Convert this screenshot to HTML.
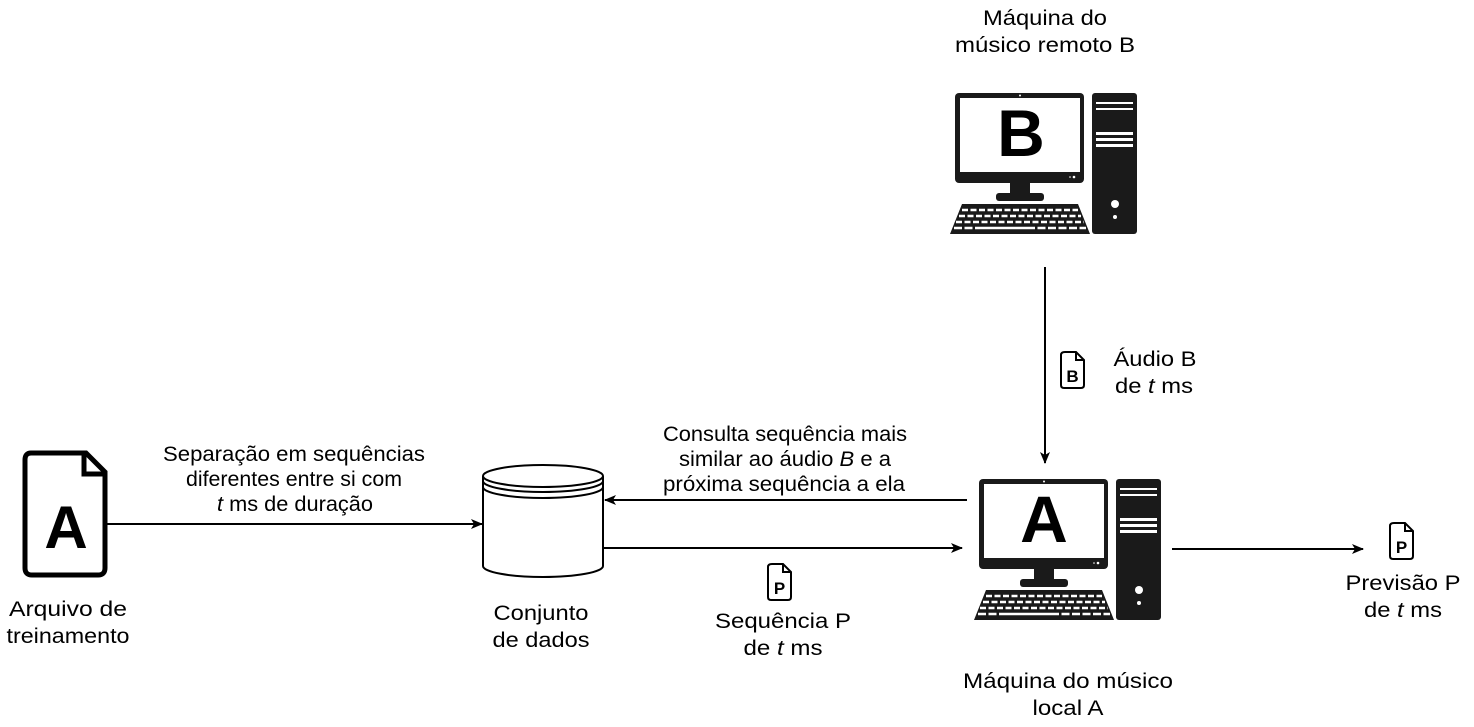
<!DOCTYPE html>
<html><head><meta charset="utf-8"><style>
html,body{margin:0;padding:0;background:#fff;}
svg text{font-family:"Liberation Sans",Arial,sans-serif;fill:#000;}
</style></head><body>
<svg width="1474" height="722" viewBox="0 0 1474 722" xmlns="http://www.w3.org/2000/svg">
<defs>
<g id="pc">
  <rect x="5" y="0" width="129" height="90" rx="4" fill="#1a1a1a"/>
  <rect x="10" y="5" width="120" height="74" fill="#fff"/>
  <circle cx="70" cy="2.5" r="1" fill="#fff"/>
  <circle cx="124" cy="84" r="1.3" fill="#fff"/><circle cx="120" cy="84" r="0.8" fill="#fff"/>
  <rect x="60" y="89" width="20" height="14" fill="#1a1a1a"/>
  <rect x="46" y="100" width="48" height="8" rx="3" fill="#1a1a1a"/>
  <polygon points="12,111 128,111 140,141 0,141" fill="#1a1a1a"/>
  <line x1="12" y1="117" x2="128" y2="117" stroke="#fff" stroke-width="2.5" stroke-dasharray="6 2.5"/>
  <line x1="9" y1="123" x2="131" y2="123" stroke="#fff" stroke-width="2.5" stroke-dasharray="6 2.5"/>
  <line x1="6" y1="129" x2="134" y2="129" stroke="#fff" stroke-width="2.5" stroke-dasharray="6 2.5"/>
  <line x1="4" y1="135" x2="136" y2="135" stroke="#fff" stroke-width="2.5" stroke-dasharray="8 2.5 8 2.5 60 2.5 8 2.5 8 2.5"/>
  <rect x="142" y="0" width="45" height="141" rx="3" fill="#1a1a1a"/>
  <rect x="146" y="9" width="37" height="2" fill="#fff"/>
  <rect x="146" y="15" width="37" height="2" fill="#fff"/>
  <rect x="146" y="39" width="37" height="3" fill="#fff"/>
  <rect x="146" y="45" width="37" height="3" fill="#fff"/>
  <rect x="146" y="51" width="37" height="3" fill="#fff"/>
  <circle cx="165" cy="111" r="4" fill="#fff"/>
  <circle cx="165" cy="124" r="2" fill="#fff"/>
</g>
<g id="doc">
  <path d="M4,0 H15 L23,8 V33 Q23,36 20,36 H3 Q0,36 0,33 V3 Q0,0 4,0 Z" fill="#fff" stroke="#000" stroke-width="2"/>
  <path d="M15,0 V8 H23" fill="none" stroke="#000" stroke-width="2"/>
</g>
<marker id="ah" markerWidth="12" markerHeight="10" refX="11" refY="5" orient="auto" markerUnits="userSpaceOnUse">
  <path d="M0,0 L12,5 L0,10 L3,5 Z" fill="#000"/>
</marker>
</defs>

<use href="#pc" transform="translate(950,93)"/>
<text x="1021" y="156" font-size="66" font-weight="bold" text-anchor="middle">B</text>
<use href="#pc" transform="translate(974,479)"/>
<text x="1044" y="542" font-size="66" font-weight="bold" text-anchor="middle">A</text>

<path d="M31,453 H86 L105,472 V568 Q105,575 98,575 H32 Q25,575 25,568 V460 Q25,453 31,453 Z" fill="#fff" stroke="#000" stroke-width="5"/>
<path d="M84,453 V474 H105" fill="none" stroke="#000" stroke-width="5"/>
<path d="M87,458 L100,471 H87 Z" fill="#fff"/>
<text x="66" y="548" font-size="60" font-weight="bold" text-anchor="middle">A</text>

<use href="#doc" transform="translate(1061,352)"/>
<text x="1072.5" y="382" font-size="17" font-weight="bold" text-anchor="middle">B</text>
<use href="#doc" transform="translate(768,564)"/>
<text x="779.5" y="594" font-size="17" font-weight="bold" text-anchor="middle">P</text>
<use href="#doc" transform="translate(1390,523)"/>
<text x="1401.5" y="553" font-size="17" font-weight="bold" text-anchor="middle">P</text>

<path d="M483,476 V566 A60,11 0 0 0 603,566 V476" fill="#fff" stroke="#000" stroke-width="2"/>
<ellipse cx="543" cy="476" rx="60" ry="11" fill="#fff" stroke="#000" stroke-width="2"/>
<path d="M483,481 A60,11 0 0 0 603,481" fill="none" stroke="#000" stroke-width="2"/>
<path d="M483,487 A60,11 0 0 0 603,487" fill="none" stroke="#000" stroke-width="2"/>

<line x1="107" y1="524" x2="482" y2="524" stroke="#000" stroke-width="2" marker-end="url(#ah)"/>
<line x1="967" y1="500" x2="605" y2="500" stroke="#000" stroke-width="2" marker-end="url(#ah)"/>
<line x1="603" y1="548" x2="962" y2="548" stroke="#000" stroke-width="2" marker-end="url(#ah)"/>
<line x1="1045" y1="267" x2="1045" y2="463" stroke="#000" stroke-width="2" marker-end="url(#ah)"/>
<line x1="1172" y1="549" x2="1363" y2="549" stroke="#000" stroke-width="2" marker-end="url(#ah)"/>

<g font-size="21" text-anchor="middle">
<text x="1045" y="25" textLength="124" lengthAdjust="spacingAndGlyphs">Máquina do</text>
<text x="1045" y="52" textLength="180" lengthAdjust="spacingAndGlyphs">músico remoto B</text>
<text x="1155" y="366" textLength="83" lengthAdjust="spacingAndGlyphs">Áudio B</text>
<text x="1154" y="393" textLength="78" lengthAdjust="spacingAndGlyphs">de <tspan font-style="italic">t</tspan> ms</text>
<text x="294" y="461" textLength="262" lengthAdjust="spacingAndGlyphs">Separação em sequências</text>
<text x="294" y="486" textLength="216" lengthAdjust="spacingAndGlyphs">diferentes entre si com</text>
<text x="295" y="511" textLength="156" lengthAdjust="spacingAndGlyphs"><tspan font-style="italic">t</tspan> ms de duração</text>
<text x="785" y="441" textLength="244" lengthAdjust="spacingAndGlyphs">Consulta sequência mais</text>
<text x="785" y="466" textLength="212" lengthAdjust="spacingAndGlyphs">similar ao áudio <tspan font-style="italic">B</tspan> e a</text>
<text x="784" y="491" textLength="242" lengthAdjust="spacingAndGlyphs">próxima sequência a ela</text>
<text x="68" y="616" textLength="118" lengthAdjust="spacingAndGlyphs">Arquivo de</text>
<text x="68" y="643" textLength="123" lengthAdjust="spacingAndGlyphs">treinamento</text>
<text x="541" y="620" textLength="95" lengthAdjust="spacingAndGlyphs">Conjunto</text>
<text x="541" y="647" textLength="97" lengthAdjust="spacingAndGlyphs">de dados</text>
<text x="783" y="628" textLength="136" lengthAdjust="spacingAndGlyphs">Sequência P</text>
<text x="783" y="655" textLength="79" lengthAdjust="spacingAndGlyphs">de <tspan font-style="italic">t</tspan> ms</text>
<text x="1068" y="688" textLength="210" lengthAdjust="spacingAndGlyphs">Máquina do músico</text>
<text x="1068" y="715" textLength="71" lengthAdjust="spacingAndGlyphs">local A</text>
<text x="1403" y="590" textLength="115" lengthAdjust="spacingAndGlyphs">Previsão P</text>
<text x="1403" y="617" textLength="78" lengthAdjust="spacingAndGlyphs">de <tspan font-style="italic">t</tspan> ms</text>
</g>
</svg>
</body></html>
